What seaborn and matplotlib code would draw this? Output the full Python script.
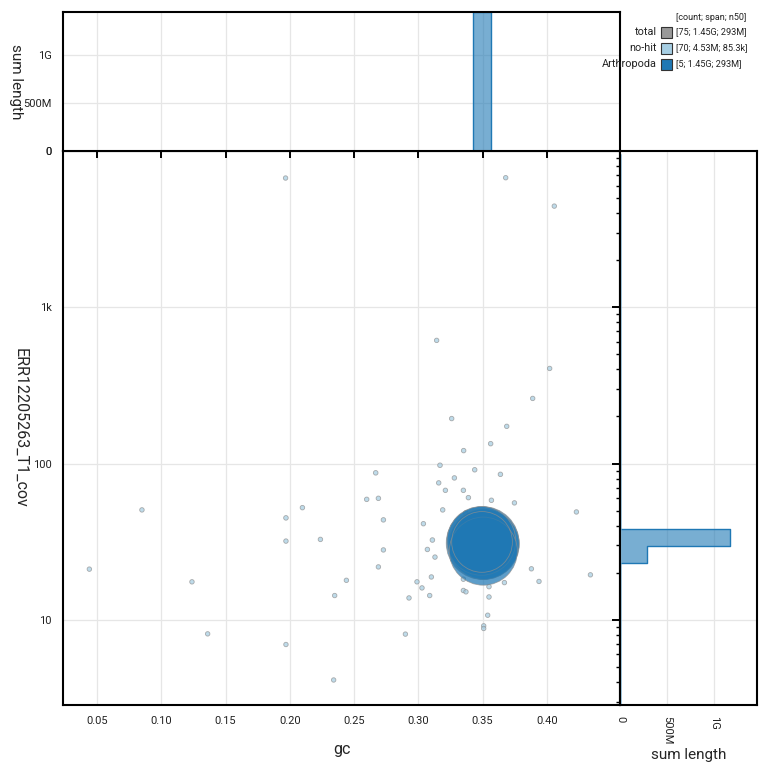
import numpy as np
import pandas as pd
import matplotlib
matplotlib.use("Agg")
import matplotlib.pyplot as plt
from matplotlib.patches import Rectangle
from matplotlib.ticker import NullFormatter, LogLocator
import seaborn as sns

sns.set_style("white")
plt.rcParams['font.family'] = ['Roboto', 'DejaVu Sans']

# ---------------- data ----------------
nohit_gc = [0.0441, 0.0850, 0.1239, 0.1361,
            0.2668, 0.2598, 0.2689, 0.2098, 0.1970, 0.2728, 0.1970, 0.2238, 0.2728, 0.2689,
            0.2440, 0.2349, 0.2927, 0.2899, 0.1970,
            0.3168, 0.3438, 0.3638, 0.3280, 0.3158, 0.3350, 0.3210, 0.3389, 0.3568, 0.3747,
            0.3189, 0.4229, 0.3039, 0.3368, 0.3109, 0.3070, 0.3129, 0.3879, 0.4338, 0.3101,
            0.3350, 0.2989, 0.3549, 0.3669, 0.3938, 0.3028, 0.3350, 0.3370, 0.3088, 0.3549,
            0.3539, 0.3508, 0.3508,
            0.3679, 0.4057,
            0.1967, 0.3142, 0.4021, 0.3889, 0.3259, 0.3687, 0.3562, 0.3352, 0.2341,
            0.3450, 0.3520, 0.3480, 0.3560, 0.3470, 0.3530, 0.3500]
nohit_cov = [21.1, 50.5, 17.5, 8.13,
             87.2, 59.0, 59.9, 52.2, 44.9, 43.6, 31.9, 32.7, 28.0, 21.8,
             17.9, 14.3, 13.8, 8.10, 6.95,
             97.5, 91.2, 85.3, 80.9, 75.2, 67.4, 67.4, 60.5, 58.2, 56.0,
             50.5, 49.0, 41.2, 48.3, 32.4, 28.2, 25.2, 21.2, 19.4, 18.8,
             18.2, 17.5, 16.3, 17.3, 17.6, 16.0, 15.4, 15.1, 14.3, 14.0,
             10.7, 9.15, 8.80,
             6745, 4440,
             6714, 614, 406, 261, 194, 173, 134, 121, 4.12,
             30.5, 27.0, 33.5, 29.0, 31.0, 35.0, 25.5]
nohit_len = [52e3, 61e3, 47e3, 38e3,
             130e3, 88e3, 92e3, 74e3, 125e3, 86e3, 58e3, 66e3, 55e3, 49e3,
             44e3, 41e3, 57e3, 36e3, 33e3,
             140e3, 95e3, 90e3, 87e3, 62e3, 91e3, 58e3, 86e3, 93e3, 54e3,
             89e3, 48e3, 52e3, 86e3, 120e3, 88e3, 61e3, 46e3, 43e3, 59e3,
             87e3, 50e3, 89e3, 57e3, 42e3, 53e3, 90e3, 45e3, 55e3, 86e3,
             40e3, 38e3, 35e3,
             44e3, 39e3,
             37e3, 45e3, 41e3, 43e3, 64e3, 47e3, 88e3, 86e3, 31e3,
             66e3, 58e3, 60e3, 52e3, 87e3, 45e3, 50e3]

arth_gc = [0.3500, 0.3510, 0.3490, 0.3505, 0.3495]
arth_cov = [31.0, 30.5, 32.0, 27.5, 31.5]
arth_len = [330e6, 310e6, 293e6, 288e6, 229e6]

categories = ["no-hit", "Arthropoda"]
cat_colors = ["#a6cee3", "#1f78b4"]

legend_names = ["total", "no-hit", "Arthropoda"]
legend_colors = ["#999999", "#a6cee3", "#1f78b4"]
legend_stats = ["[75; 1.45G; 293M]", "[70; 4.53M; 85.3k]", "[5; 1.45G; 293M]"]
legend_header = "[count; span; n50]"

gc_ticks = [0.05, 0.10, 0.15, 0.20, 0.25, 0.30, 0.35, 0.40]
gc_tick_labels = ["0.05", "0.10", "0.15", "0.20", "0.25", "0.30", "0.35", "0.40"]
cov_ticks = [10, 100, 1000, 10000]
cov_tick_labels = ["10", "100", "1k", "0"]
len_ticks = [0, 5e8, 1e9]
len_tick_labels = ["0", "500M", "1G"]

# ---------------- frame ----------------
df = pd.DataFrame({
    "gc": nohit_gc + arth_gc,
    "cov": nohit_cov + arth_cov,
    "length": nohit_len + arth_len,
    "cat": [categories[0]] * len(nohit_gc) + [categories[1]] * len(arth_gc),
})
palette = dict(zip(categories, cat_colors))
df_sc = pd.concat([df[df.cat == "no-hit"],
                   df[df.cat == "Arthropoda"].sort_values("length", ascending=False)])

W = 770.0
def fx(px): return px / W
def fy(py): return 1 - py / W

fig = plt.figure(figsize=(7.7, 7.7), dpi=100)
L, R, T, B, TT, RR = 63, 620, 151, 705, 12, 757
ax = fig.add_axes([fx(L), fy(B), fx(R) - fx(L), fy(T) - fy(B)])
axt = fig.add_axes([fx(L), fy(T), fx(R) - fx(L), fy(TT) - fy(T)], sharex=ax)
axr = fig.add_axes([fx(R), fy(B), fx(RR) - fx(R), fy(T) - fy(B)], sharey=ax)

ax.set_yscale("log")

grid_kw = dict(color="#e6e6e6", linewidth=0.9)
for a in (ax, axt, axr):
    a.set_axisbelow(True)
    a.grid(True, which="major", **grid_kw)

sns.scatterplot(data=df_sc, x="gc", y="cov", hue="cat", palette=palette,
                size="length", sizes=(10, 2750), size_norm=(0, 330e6),
                edgecolor="#8f8f8f", linewidth=0.6, alpha=0.72,
                legend=False, ax=ax)

sns.histplot(data=df, x="gc", weights="length", hue="cat", palette=palette,
             hue_order=categories, binwidth=0.014, binrange=(0.0204, 0.4684),
             element="step", fill=True, alpha=0.6, linewidth=1.0,
             legend=False, ax=axt)
sns.histplot(data=df, y="cov", weights="length", hue="cat", palette=palette,
             hue_order=categories, binwidth=0.109, binrange=(0.384, 3.981),
             element="step", fill=True, alpha=0.6, linewidth=1.0,
             legend=False, ax=axr)

ax.set_xlim(0.0236, 0.4568)
ax.set_ylim(2.85, 10000)
axt.set_ylim(0, 1.45e9)
axr.set_xlim(0, 1.45e9)

ax.set_xticks(gc_ticks, gc_tick_labels)
ax.set_yticks(cov_ticks, cov_tick_labels)
ax.yaxis.set_minor_locator(LogLocator(base=10, subs=np.arange(2, 10)))
ax.yaxis.set_minor_formatter(NullFormatter())

axt.set_yticks(len_ticks, len_tick_labels)
axr.set_xticks(len_ticks, len_tick_labels, rotation=-90)

for a in (ax, axt, axr):
    a.tick_params(which="major", direction="out", length=5.5, width=1.4,
                  color="black", labelsize=8, labelcolor="#222222", pad=2.5)
    a.tick_params(which="minor", direction="out", length=3, width=1.0, color="black")
    for s in a.spines.values():
        s.set_visible(True)
        s.set_color("black")
        s.set_linewidth(1.5)

axt.tick_params(axis="x", labelbottom=False)
axr.tick_params(axis="y", labelleft=False)
axt.tick_params(axis="x", which="both", bottom=True, length=5)
axr.tick_params(axis="y", which="both", left=True)

ax.set_xlabel("gc", fontsize=11.5)
ax.xaxis.set_label_coords(0.5, -0.066)
ax.set_ylabel("ERR12205263_T1_cov", fontsize=11.5, rotation=-90, va="center", ha="center")
ax.yaxis.set_label_coords(-0.077, 0.5)
axt.set_xlabel("")
axt.set_ylabel("sum length", fontsize=11, rotation=-90, va="center", ha="center")
axt.yaxis.set_label_coords(-0.084, 0.5)
axr.set_ylabel("")
axr.set_xlabel("sum length", fontsize=11)
axr.xaxis.set_label_coords(0.5, -0.078)

# legend
fig.text(fx(676), fy(17), legend_header, fontsize=6.5, ha="left", va="center", color="#222222")
rows_y = [32, 48, 64]
for name, col, stat, yy in zip(legend_names, legend_colors, legend_stats, rows_y):
    fig.text(fx(657), fy(yy), name, fontsize=7.8, ha="right", va="center", color="#222222")
    fig.patches.append(Rectangle((fx(661), fy(yy + 5.5)), fx(11), fx(11),
                                 transform=fig.transFigure, facecolor=col,
                                 edgecolor="#333333", linewidth=0.8))
    fig.text(fx(676), fy(yy), stat, fontsize=6.6, ha="left", va="center", color="#222222")

fig.savefig("out.png", dpi=100)
